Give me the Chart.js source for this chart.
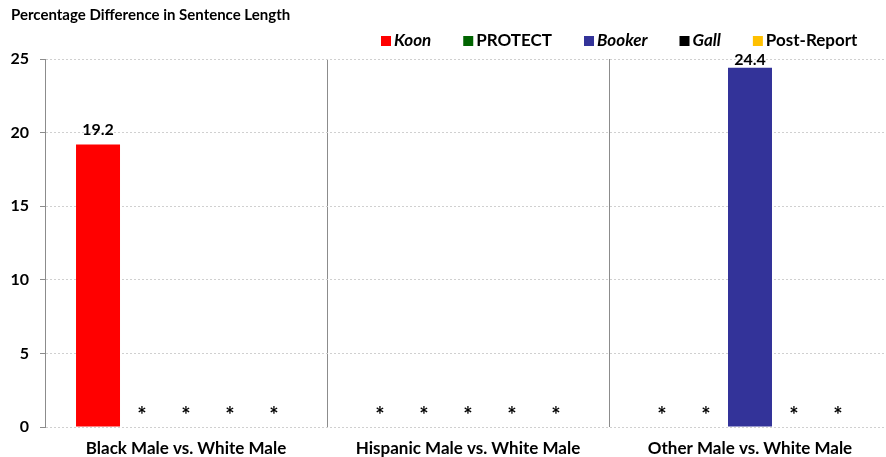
<!DOCTYPE html>
<html>
<head>
<meta charset="utf-8">
<script src="https://cdn.jsdelivr.net/npm/chart.js@4.4.1/dist/chart.umd.min.js"></script>
<style>
  html, body { margin: 0; padding: 0; background: #fff; overflow: hidden; width: 886px; height: 457px; }
  #wrap { width: 892px; height: 457px; }
</style>
</head>
<body>
<div id="wrap"><canvas id="chart" width="892" height="457"></canvas></div>
<script>
// data
const categories = ['Black Male vs. White Male', 'Hispanic Male vs. White Male', 'Other Male vs. White Male'];
const seriesNames = ['Koon', 'PROTECT', 'Booker', 'Gall', 'Post-Report'];
const koon = [19.2, null, null];
const protect = [null, null, null];
const booker = [null, null, 24.4];
const gall = [null, null, null];
const postReport = [null, null, null];
const yTicks = [0, 5, 10, 15, 20, 25];
const chartTitle = 'Percentage Difference in Sentence Length';

const colors = ['#ff0000', '#006400', '#333399', '#000000', '#ffc000'];
const italic = [true, false, true, true, false];
const FONT = 'Lato, "Open Sans", sans-serif';

const seriesData = [koon, protect, booker, gall, postReport];
const dataSet = seriesNames.map((name, i) => ({
  label: name,
  data: seriesData[i],
  backgroundColor: colors[i],
  borderColor: colors[i],
  borderWidth: 0,
  categoryPercentage: 0.78,
  barPercentage: 1,
}));

// title, legend, value labels and asterisks for missing values
const decorations = {
  id: 'decorations',
  afterDatasetsDraw(chart) {
    const ctx = chart.ctx;
    const y = chart.scales.y;
    ctx.save();
    ctx.fillStyle = '#000';
    ctx.textAlign = 'left';
    ctx.textBaseline = 'alphabetic';
    ctx.font = 'bold 15px ' + FONT;
    ctx.fillText(chartTitle, 11, 20);

    // legend
    let lx = 381;
    seriesNames.forEach((name, i) => {
      ctx.fillStyle = colors[i];
      ctx.fillRect(lx, 36, 10, 10);
      ctx.fillStyle = '#000';
      ctx.font = (italic[i] ? 'italic ' : '') + 'bold 17px ' + FONT;
      ctx.fillText(name, lx + 13, 46);
      lx += 13 + ctx.measureText(name).width + 32;
    });

    // values and asterisks
    ctx.textAlign = 'center';
    chart.data.datasets.forEach((ds, di) => {
      const meta = chart.getDatasetMeta(di);
      meta.data.forEach((bar, i) => {
        const v = ds.data[i];
        if (v === null) {
          ctx.font = 'bold 22px ' + FONT;
          ctx.fillText('*', bar.x, y.getPixelForValue(0) - 4);
        } else {
          ctx.font = 'bold 16px ' + FONT;
          const by = Math.max(bar.y - 9, chart.chartArea.top + 6);
          ctx.fillText(v.toFixed(1), bar.x, by);
        }
      });
    });
    ctx.restore();
  },
};

new Chart(document.getElementById('chart'), {
  type: 'bar',
  data: {
    labels: categories,
    datasets: dataSet,
  },
  options: {
    responsive: false,
    animation: false,
    layout: {
      padding: { top: 59, right: 1, left: 0, bottom: 0 },
    },
    plugins: {
      legend: { display: false },
      title: { display: false },
      tooltip: { enabled: false },
    },
    scales: {
      x: {
        offset: true,
        grid: {
          display: true,
          offset: true,
          color: '#8c8c8c',
          lineWidth: 1,
          drawTicks: false,
        },
        border: { display: false },
        ticks: {
          color: '#000',
          font: { family: FONT, size: 17, weight: 'bold' },
          padding: 11,
          maxRotation: 0,
        },
        afterFit(scale) { scale.height = 30; },
      },
      y: {
        min: 0,
        max: 25,
        afterBuildTicks(scale) { scale.ticks = yTicks.map(v => ({ value: v })); },
        grid: {
          color: '#d0d0d0',
          tickLength: 5,
          tickColor: '#8c8c8c',
          tickBorderDash: [],
        },
        border: { display: true, color: '#8c8c8c', width: 1, dash: [2, 2] },
        ticks: {
          color: '#000',
          font: { family: FONT, size: 16, weight: 'bold' },
          padding: 11,
        },
        afterFit(scale) { scale.width = 45; },
      },
    },
  },
  plugins: [decorations],
});
</script>
</body>
</html>
